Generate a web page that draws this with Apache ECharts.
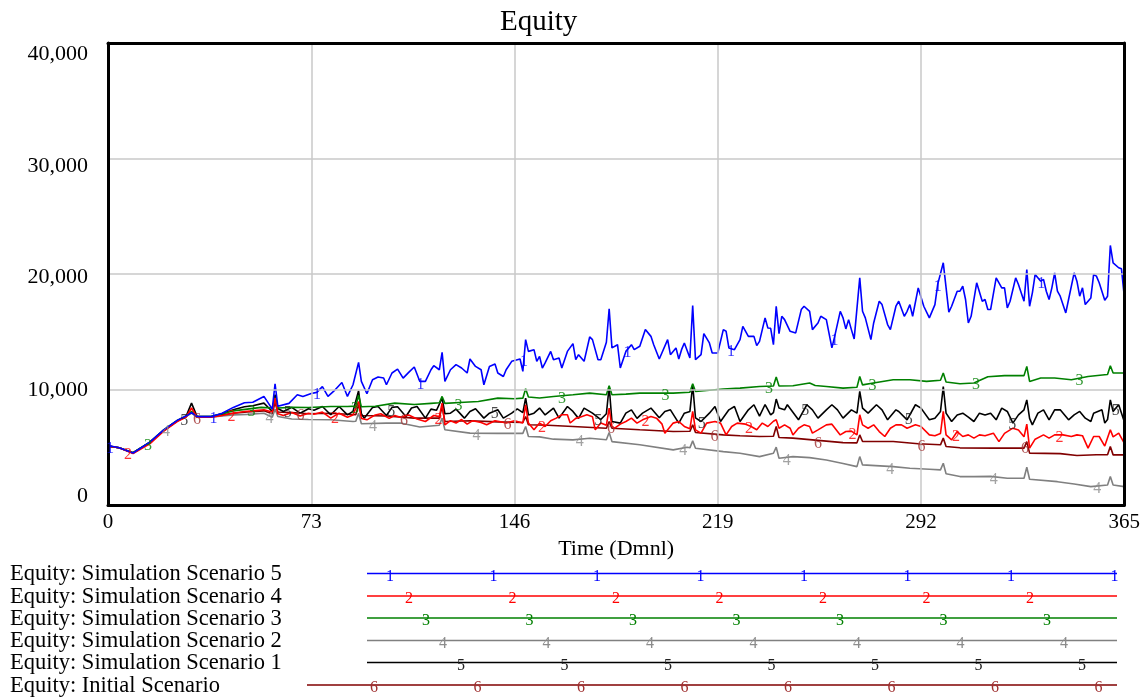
<!DOCTYPE html>
<html>
<head>
<meta charset="utf-8">
<script src="https://cdn.jsdelivr.net/npm/echarts@6/dist/echarts.min.js"></script>
<style>
html,body{margin:0;padding:0;background:#fff;}
#c{width:1143px;height:697px;}
</style>
</head>
<body>
<div id="c"></div>
<script>
// ---------------- DATA ----------------
const titleText = 'Equity';
const xAxisName = 'Time (Dmnl)';
const xTicks = [0, 73, 146, 219, 292, 365];
const yTicks = [0, 10000, 20000, 30000, 40000];

const seriesNames = [
  'Equity: Simulation Scenario 5',
  'Equity: Simulation Scenario 4',
  'Equity: Simulation Scenario 3',
  'Equity: Simulation Scenario 2',
  'Equity: Simulation Scenario 1',
  'Equity: Initial Scenario'
];
const seriesMarks = ['1', '2', '3', '4', '5', '6'];

// [day, equity]
const scenario5 = [[0,5150],[4,4950],[9,4500],[15,5450],[20,6500],[25,7350],[28,7700],[30,8000],[32,7650],[37,7650],[41,7950],[45,8450],[49,8850],[52,8900],[56,9400],[59,8300],[60,10500],[61,8550],[65,8800],[68,9550],[70,9400],[73,9650],[75,9750],[77,10250],[79,9400],[81,9830],[84,10610],[86,9400],[88,10410],[90,12350],[91,10700],[93,9630],[95,10850],[97,11080],[99,11000],[100,10410],[102,11430],[104,11770],[106,10990],[108,11480],[110,11950],[112,10700],[114,10700],[116,11710],[117,12060],[119,11710],[120,13215],[121,10700],[123,11710],[125,12150],[127,11860],[129,11430],[130,12640],[132,12000],[134,11710],[135,10410],[137,12000],[139,12200],[140,11430],[142,11130],[143,11710],[145,12440],[148,12640],[149,11570],[150,14320],[151,13300],[153,13450],[154,12440],[155,12870],[156,11860],[157,12300],[159,13300],[160,12580],[162,12730],[163,11860],[165,13300],[167,13970],[168,12580],[169,13015],[171,12440],[173,14550],[174,14320],[176,12580],[177,12580],[179,14090],[180,16980],[181,13600],[183,13880],[184,11860],[186,13300],[188,13880],[189,13450],[191,13740],[193,15185],[195,14600],[196,13880],[198,12640],[201,14320],[202,13015],[204,13600],[205,12640],[206,13450],[207,14030],[209,12730],[210,17270],[211,12580],[213,13015],[214,14840],[216,14030],[217,13160],[219,13160],[221,15185],[222,15040],[223,13600],[225,13450],[227,14320],[228,15470],[230,14600],[232,14600],[233,13800],[234,14170],[236,16200],[237,15330],[238,15300],[239,13880],[240,17210],[241,14840],[242,16340],[243,16050],[245,15040],[247,14900],[249,16920],[250,17210],[252,16770],[253,15185],[255,15760],[256,16340],[258,16050],[260,13600],[261,14600],[263,16770],[264,16200],[265,15245],[266,16050],[267,15185],[268,14380],[270,19670],[271,16770],[272,16200],[274,14320],[275,15760],[277,17640],[278,17350],[280,15620],[281,15185],[283,17210],[284,17640],[286,16340],[287,16770],[288,17350],[289,16340],[291,18800],[293,17210],[295,16200],[297,17350],[298,19100],[300,20970],[302,16700],[303,17210],[305,18510],[306,18510],[307,18940],[308,17790],[309,15760],[310,16340],[312,19240],[314,17640],[315,17790],[316,16920],[317,16920],[319,19670],[321,18800],[322,18800],[323,17070],[324,17640],[326,19670],[327,19090],[329,17640],[330,20390],[331,17210],[332,18370],[333,19960],[335,19380],[336,19530],[337,18510],[338,17790],[339,18800],[340,20100],[341,18510],[342,18080],[344,16630],[345,17790],[347,20100],[348,19380],[349,18080],[350,18800],[351,17350],[353,17930],[354,19960],[355,19820],[356,19240],[358,17730],[359,18080],[360,22470],[361,20970],[363,20540],[364,20450],[365,18080]];

const scenario4 = [[0,5100],[4,4950],[9,4450],[15,5300],[20,6400],[25,7250],[28,7600],[30,8400],[32,7600],[37,7600],[41,7750],[45,7950],[49,8100],[52,8150],[56,8250],[59,8050],[60,9250],[61,7900],[63,7750],[66,8000],[69,7700],[72,7950],[74,7850],[77,8050],[80,7520],[83,7950],[86,7600],[88,7800],[90,8960],[91,7500],[93,7375],[96,7800],[98,7900],[101,7500],[103,7750],[105,7600],[108,7800],[111,7450],[114,7230],[117,7750],[119,7650],[120,8820],[121,6940],[123,7300],[125,7100],[127,7400],[129,7000],[131,7300],[134,7150],[136,6950],[139,7300],[141,7200],[143,7100],[146,7300],[149,7100],[150,8680],[151,7100],[153,6510],[155,7090],[157,6800],[159,7300],[161,7520],[163,7810],[165,7810],[166,7100],[168,7500],[170,7650],[172,7810],[174,7650],[175,6510],[177,7090],[179,6900],[180,8390],[181,6800],[182,6650],[184,7000],[186,7230],[188,7520],[190,7090],[192,7375],[195,7660],[197,7520],[199,7000],[200,6220],[203,7090],[205,7230],[207,6800],[209,6600],[210,8100],[211,6500],[213,6220],[215,7090],[218,7230],[220,7090],[222,6070],[224,6800],[226,7090],[229,7000],[231,6800],[233,6510],[235,7090],[237,6800],[239,7250],[240,7375],[241,6650],[243,6940],[245,6650],[246,6070],[248,6650],[250,6940],[252,6800],[253,6220],[255,6500],[258,6940],[260,7000],[263,6070],[265,6360],[267,6400],[269,6070],[270,7810],[271,6940],[273,6650],[275,6940],[277,6360],[279,5930],[281,6650],[283,6940],[285,6940],[287,6650],[290,6940],[292,6800],[295,6070],[297,6000],[299,6200],[300,8100],[301,6070],[303,5640],[305,6360],[307,5930],[309,6070],[311,5790],[313,6070],[315,6000],[318,6220],[320,5490],[322,6200],[325,6650],[327,6500],[329,5900],[330,7000],[331,4920],[333,5700],[336,6070],[338,5790],[340,6070],[343,6070],[346,5930],[348,6070],[350,6000],[352,4920],[354,5930],[356,5930],[358,5100],[360,6510],[361,5900],[363,6220],[365,5350]];

const scenario3 = [[0,5100],[4,4950],[9,4520],[15,5450],[20,6500],[25,7350],[28,7680],[30,8100],[32,7650],[37,7650],[41,7900],[45,8150],[50,8300],[55,8450],[59,8400],[60,9300],[61,8400],[66,8450],[72,8440],[80,8530],[86,8530],[89,8560],[90,9500],[91,8500],[96,8550],[103,8820],[110,8700],[116,8800],[119,8850],[120,9400],[121,8800],[128,8900],[133,8960],[140,9250],[146,9200],[149,9250],[150,10070],[151,9350],[155,9260],[160,9400],[167,9545],[173,9690],[179,9550],[180,10330],[181,9545],[186,9600],[191,9690],[203,9690],[209,9760],[210,10500],[211,9830],[221,10040],[227,10120],[234,10260],[239,10300],[240,11080],[241,10300],[246,10325],[252,10560],[254,10350],[258,10260],[264,10120],[269,10200],[270,11130],[271,10400],[276,10610],[282,10850],[288,10850],[294,10700],[299,10800],[300,11430],[301,10650],[306,10500],[311,10560],[316,11100],[322,11200],[329,11200],[330,12000],[331,10700],[335,11000],[340,11000],[346,10850],[352,11130],[358,11280],[359,11300],[360,12060],[361,11430],[365,11430]];

const scenario2 = [[0,5100],[4,4950],[9,4520],[15,5400],[20,6450],[25,7300],[28,7650],[30,7950],[32,7600],[37,7600],[41,7700],[45,7800],[50,7850],[56,7950],[59,7600],[60,8300],[61,7660],[66,7450],[72,7400],[80,7375],[88,7230],[89,7250],[90,7950],[91,7030],[100,7090],[105,7100],[112,6750],[119,6900],[120,7520],[121,6510],[130,6220],[140,6200],[149,6200],[150,6800],[151,5930],[155,5900],[160,5700],[167,5640],[173,5780],[179,5650],[180,6275],[181,5490],[191,5210],[203,4770],[208,5000],[209,4950],[210,5550],[211,4920],[221,4625],[227,4480],[234,4190],[239,4480],[240,5005],[241,4050],[246,4190],[252,4100],[258,3900],[264,3600],[269,3320],[270,4190],[271,3470],[282,3320],[288,3180],[295,3100],[299,3040],[300,3615],[301,2700],[306,2460],[311,2460],[317,2480],[323,2310],[329,2310],[330,3270],[331,2230],[341,2020],[347,1820],[353,1590],[359,1735],[360,2460],[361,1735],[365,1590]];

const scenario1 = [[0,5100],[4,4950],[9,4500],[15,5400],[20,6450],[25,7300],[28,7650],[30,8820],[32,7650],[37,7650],[41,7900],[45,8250],[49,8500],[52,8600],[56,8820],[59,8100],[60,9545],[61,8350],[63,8100],[66,8450],[69,7950],[72,8330],[74,8200],[77,8530],[80,7810],[83,8530],[86,7800],[88,8100],[90,9890],[91,7900],[92,7520],[95,8450],[97,8530],[100,7750],[102,8450],[104,8500],[107,7660],[109,8400],[111,8530],[114,7520],[116,8300],[118,8200],[120,9260],[121,7900],[123,7950],[125,8300],[128,7520],[130,8100],[132,8330],[135,7520],[137,7950],[140,8250],[142,7520],[145,7950],[147,8330],[149,8000],[150,9260],[151,7800],[153,7950],[155,8390],[157,7800],[160,8390],[162,7520],[165,8530],[167,8100],[169,7500],[171,8390],[174,7950],[177,7400],[179,7900],[180,10260],[181,7230],[184,7090],[186,7950],[188,8240],[190,7500],[192,7950],[195,8390],[198,7550],[200,8100],[202,8240],[205,7090],[207,7950],[209,8100],[210,10410],[211,7550],[213,7230],[216,7950],[218,8530],[220,7230],[223,8240],[225,8530],[227,7230],[230,8240],[232,8680],[234,7700],[236,8700],[238,7800],[239,8000],[240,9170],[241,8390],[243,8240],[244,8680],[248,7375],[251,8680],[253,8240],[255,7520],[258,8240],[260,8680],[262,8240],[264,7520],[267,8240],[269,7950],[270,9830],[271,8390],[273,7950],[276,8680],[278,8240],[280,7375],[283,8240],[284,8100],[287,7375],[290,8680],[292,8390],[295,7375],[297,7520],[299,8100],[300,10260],[301,7950],[303,7230],[305,7800],[307,7950],[309,7600],[311,7230],[313,7950],[315,7800],[317,7950],[319,7375],[321,8390],[323,8100],[325,7090],[327,7800],[329,8240],[330,9100],[331,7500],[332,6940],[334,7950],[336,8240],[338,7375],[340,8240],[342,8240],[345,7375],[347,7800],[349,8100],[351,7520],[353,7230],[354,7950],[357,8240],[358,7090],[359,7400],[360,9100],[361,8100],[362,8400],[363,8680],[365,7230]];

const initialScenario = [[0,5100],[4,4950],[9,4520],[15,5420],[20,6450],[25,7300],[28,7650],[30,8000],[32,7620],[37,7620],[41,7800],[45,7950],[50,8050],[56,8150],[59,7900],[60,8900],[61,8050],[66,8000],[72,7900],[80,7950],[89,7810],[90,8680],[91,7750],[100,7700],[110,7520],[119,7520],[120,8530],[121,7230],[130,7300],[140,7200],[149,7140],[150,7660],[151,6950],[158,6900],[167,6800],[179,6650],[180,7230],[181,6650],[191,6510],[203,6360],[209,6380],[210,6940],[211,6275],[221,6070],[227,6000],[234,5930],[239,5950],[240,6800],[241,5850],[246,5790],[253,5640],[264,5400],[269,5380],[270,6070],[271,5500],[282,5500],[291,5300],[299,5210],[300,5790],[301,5060],[306,4950],[318,4920],[326,4920],[329,4920],[330,5490],[331,4490],[342,4450],[348,4280],[355,4350],[359,4350],[360,5060],[361,4340],[365,4340]];

// day at which each series' first number mark sits, and spacing between marks
const markStartDays = [0.7, 7.2, 14.4, 20.8, 27.4, 32.0];
const markStepDays = 37.17;

// ---------------- STYLE ----------------
const FONT = '"Liberation Serif", "Times New Roman", serif';
const colors = ['#0000ff', '#ff0000', '#008000', '#808080', '#000000', '#800000'];
const markColors = ['#0000ff', '#ff0000', '#008000', '#8c8c8c', '#222222', '#a03030'];
const allData = [scenario5, scenario4, scenario3, scenario2, scenario1, initialScenario];

function valueAt(data, d) {
  for (let i = 1; i < data.length; i++) {
    if (data[i][0] >= d) {
      const [x0, y0] = data[i - 1], [x1, y1] = data[i];
      return y0 + (y1 - y0) * (d - x0) / (x1 - x0);
    }
  }
  return data[data.length - 1][1];
}

const series = [];
for (let k = allData.length - 1; k >= 0; k--) {
  series.push({
    name: seriesNames[k],
    type: 'line',
    data: allData[k],
    symbol: 'none',
    showSymbol: false,
    lineStyle: { color: colors[k], width: 1.6 },
    itemStyle: { color: colors[k] },
    silent: true,
    z: 2
  });
}
for (let k = 0; k < allData.length; k++) {
  const pts = [];
  for (let d = markStartDays[k]; d <= 365; d += markStepDays) {
    pts.push([d, valueAt(allData[k], d)]);
  }
  series.push({
    type: 'scatter',
    data: pts,
    symbol: 'rect',
    symbolSize: 1,
    itemStyle: { color: 'rgba(0,0,0,0)' },
    silent: true,
    z: 4,
    label: {
      show: true,
      position: 'inside',
      formatter: seriesMarks[k],
      color: markColors[k],
      fontFamily: FONT,
      fontSize: 16,
      offset: [0, 3]
    }
  });
}

// legend drawn below the chart
const legendRowY = [573.5, 596, 618, 640.5, 662.5, 685];
const legendLineStart = [367, 367, 367, 367, 367, 307];
const legendLineEnd = 1117;
const legendMarkStart = [390, 409, 426, 443, 461, 374];
const legendMarkStep = 103.5;

const graphics = [];
for (let k = 0; k < seriesNames.length; k++) {
  const y = legendRowY[k];
  graphics.push({
    type: 'text', x: 10, y: y + 1, silent: true,
    style: { text: seriesNames[k], fill: '#000', font: '22.5px ' + FONT, align: 'left', verticalAlign: 'middle' }
  });
  graphics.push({
    type: 'line', silent: true,
    shape: { x1: legendLineStart[k], y1: y, x2: legendLineEnd, y2: y },
    style: { stroke: colors[k], lineWidth: 1.6 }
  });
  for (let x = legendMarkStart[k]; x <= legendLineEnd + 0.5; x += legendMarkStep) {
    graphics.push({
      type: 'text', x: x, y: y + 3, silent: true,
      style: { text: seriesMarks[k], fill: markColors[k], font: '16px ' + FONT, align: 'center', verticalAlign: 'middle' }
    });
  }
}

const yLabelKey = { 0: 'b', 10000: 'm1', 20000: 'm2', 30000: 'm3', 40000: 't' };
const yRichBase = { fontSize: 22, fontFamily: FONT, color: '#000' };
const frameLine = { show: true, onZero: false, lineStyle: { color: '#000', width: 3 } };

const option = {
  animation: false,
  backgroundColor: '#fff',
  title: {
    text: titleText,
    left: 500, top: 8, padding: 0,
    textStyle: { fontSize: 29, fontFamily: FONT, fontWeight: 'normal', color: '#000' }
  },
  grid: { left: 108, right: 17, top: 43, bottom: 192, show: false },
  xAxis: [{
    type: 'value', min: xTicks[0], max: xTicks[xTicks.length - 1], interval: 73,
    name: xAxisName, nameLocation: 'middle', nameGap: 31,
    nameTextStyle: { fontSize: 22, fontFamily: FONT, color: '#000' },
    axisLine: frameLine, axisTick: { show: false },
    axisLabel: { fontSize: 21, fontFamily: FONT, color: '#000', margin: 7 },
    splitLine: { show: true, lineStyle: { color: '#c8c8c8', width: 1.5 } },
    z: 3
  }, {
    type: 'value', position: 'top', min: xTicks[0], max: xTicks[xTicks.length - 1], interval: 73,
    axisLine: frameLine, axisTick: { show: false }, axisLabel: { show: false },
    splitLine: { show: false }, z: 3
  }],
  yAxis: [{
    type: 'value', min: yTicks[0], max: yTicks[yTicks.length - 1], interval: 10000,
    axisLine: frameLine, axisTick: { show: false },
    axisLabel: {
      fontSize: 22, fontFamily: FONT, color: '#000', margin: 20,
      formatter: function (v) {
        const key = yLabelKey[v] || 'm2';
        return '{' + key + '|' + v.toLocaleString('en-US') + '}';
      },
      rich: {
        t: Object.assign({ padding: [22, 0, 0, 0] }, yRichBase),
        m3: Object.assign({ padding: [16, 0, 0, 0] }, yRichBase),
        m2: Object.assign({ padding: [6, 0, 0, 0] }, yRichBase),
        m1: Object.assign({ padding: [1, 0, 0, 0] }, yRichBase),
        b: Object.assign({ padding: [0, 0, 18, 0] }, yRichBase)
      }
    },
    splitLine: { show: true, lineStyle: { color: '#c8c8c8', width: 1.5 } },
    z: 3
  }, {
    type: 'value', position: 'right', min: yTicks[0], max: yTicks[yTicks.length - 1], interval: 10000,
    axisLine: frameLine, axisTick: { show: false }, axisLabel: { show: false },
    splitLine: { show: false }, z: 3
  }],
  graphic: graphics,
  series: series
};

const chart = echarts.init(document.getElementById('c'));
chart.setOption(option);
</script>
</body>
</html>
